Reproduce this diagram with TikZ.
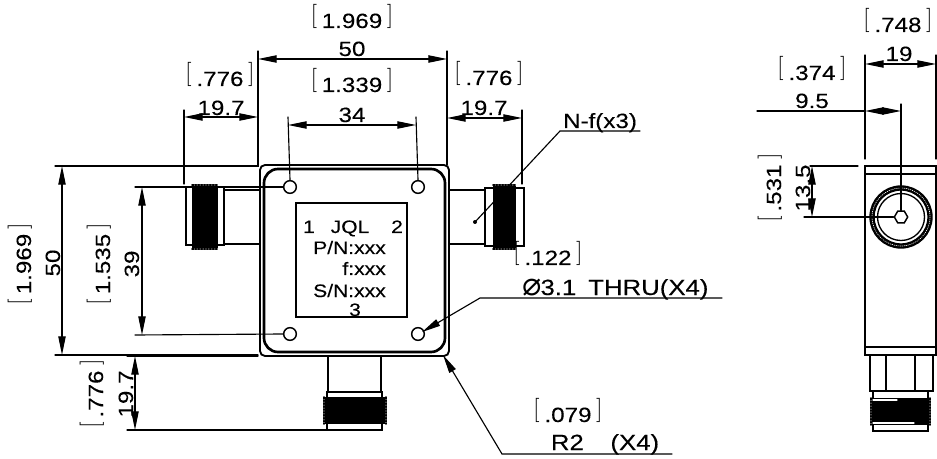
\documentclass[tikz,border=0pt]{standalone}
\usepackage{graphicx}
\usepackage{fontspec}
\setmainfont[FakeStretch=1.17,FakeBold=0.15]{Liberation Sans}
\newfontfamily\symbolfont{DejaVu Sans}
\usetikzlibrary{arrows.meta}
\usetikzlibrary{shapes.geometric}
\newcommand{\tallbracket}[1]{\raisebox{-0.75pt}{\resizebox*{!}{19pt}{\raisebox{\depth}{$\Big#1$}}}}
\newcommand{\inch}[1]{\tallbracket{[}\hspace{3.5pt}#1\hspace{3.5pt}\tallbracket{]}}

\begin{document}
\begin{tikzpicture}[x=0.75pt,y=-0.75pt,>={Stealth[length=14pt,width=5.5pt,inset=0pt]},line cap=round,
  thin line/.style={line width=0.85pt},
  part line/.style={line width=1.4pt},
  knurl edge/.style={line width=1.2pt,densely dotted},
  size text/.style={anchor=base,inner sep=0pt,font=\fontsize{15.5}{18}\selectfont},
  note text/.style={anchor=base,inner sep=0pt,font=\fontsize{16.5}{18}\selectfont},
  plate text/.style={anchor=base,inner sep=0pt,font=\fontsize{13.5}{16}\selectfont},
  hole/.style={circle,draw,line width=1.1pt,inner sep=0pt,minimum size=9.5pt}]
 \useasboundingbox (0,0) rectangle (937,459);

 % main body
 \draw[part line,rounded corners=3.75pt] (260,165) rectangle (449,356);
 \draw[line width=2pt,rounded corners=10.5pt] (264,169) rectangle (445,352);
 \draw[thin line] (296,203) rectangle (407,317);
 \foreach \n/\x/\y in {tl/290/187,tr/418/187,bl/290/334,br/418/334}
    \node[hole] (hole \n) at (\x,\y) {};

 % plate
 \node[plate text] (port one) at (309,233) {1};
 \node[plate text] (maker) at (350,233) {JQL};
 \node[plate text] (port two) at (397,233) {2};
 \node[plate text,anchor=base east] (part no) at (386,254) {P/N:xxx};
 \node[plate text,anchor=base east] (freq) at (386,275) {f:xxx};
 \node[plate text,anchor=base east] (serial) at (386,297) {S/N:xxx};
 \node[plate text] (port three) at (355,316) {3};

 % left connector
 \draw[part line] (224,190) -- (260,190) (224,244) -- (260,244);
 \draw[part line] (186,187) rectangle (224,245);
 \fill (192,186) rectangle (218,248);
 \draw[knurl edge] (192,185) -- (218,185) (192,249) -- (218,249);
 % right connector
 \draw[part line] (449,190) -- (485,190) (449,244) -- (485,244);
 \draw[part line] (485,188) rectangle (524,246);
 \fill (493,186) rectangle (516,248);
 \draw[knurl edge] (493,185) -- (516,185) (493,249) -- (516,249);
 \draw[white,thin line] (517,192) -- (517,205);
 % bottom connector
 \draw[part line] (328,356) -- (328,392) (381,356) -- (381,392);
 \draw[part line] (327,392) rectangle (382,430);
 \fill (325,397) rectangle (385,424);
 \draw[knurl edge] (324,397) -- (324,424) (386,397) -- (386,424);

 % side view
 \draw[part line] (865,166) rectangle (936,355);
 \draw[part line] (865,174) -- (936,174) (865,347) -- (936,347);
 \draw[line width=4pt] (901,217) circle [radius=29];
 \draw[white,line width=0.5pt,densely dotted] (901,217) circle [radius=29];
 \draw[line width=1pt] (901,217) circle [radius=23.5];
 \node[draw,line width=1.1pt,shape=regular polygon,regular polygon sides=6,inner sep=0pt,minimum size=10pt] (bore) at (901,217) {};
 \draw[part line] (870,355) rectangle (933,391);
 \draw[part line] (886,355) -- (886,391) (915,355) -- (915,391);
 \draw[part line] (873,391) rectangle (928,431);
 \fill (872,398) rectangle (929,425);
 \draw[knurl edge] (871,398) -- (871,425) (930,398) -- (930,425);
 \draw[white,thin line] (873,400) -- (897,400) (873,423) -- (914,423);

 % dimensions on top
 \draw[thin line] (55,166) -- (258,166) -- (258,51);
 \draw[thin line] (447,51) -- (447,165);
 \draw[thin line,<->] (258,59) -- (447,59);
 \node[size text] (width in) at (352,28) {\inch{1.969}};
 \node[size text] (width) at (352,56) {50};

 \draw[thin line] (184,110) -- (184,184);
 \draw[thin line,<->] (184,117) -- (258,117);
 \node[size text] (left in) at (220,86) {\inch{.776}};
 \node[size text] (left) at (221,115) {19.7};

 \draw[thin line] (288,117) -- (hole tl.north);
 \draw[thin line] (416,117) -- (hole tr.north);
 \draw[thin line,<->] (288,125) -- (416,125);
 \node[size text] (holes in) at (352,92) {\inch{1.339}};
 \node[size text] (holes) at (352,122) {34};

 \draw[thin line] (522,110) -- (522,184);
 \draw[thin line,<->] (447,118) -- (522,118);
 \node[size text] (right in) at (489,85) {\inch{.776}};
 \node[size text] (right) at (484,115) {19.7};

 % dimensions on the left
 \draw[thin line] (55,355) -- (258,355);
 \draw[thin line,<->] (62,166) -- (62,355);
 \node[size text,rotate=90] (height in) at (31,264) {\inch{1.969}};
 \node[size text,rotate=90] (height) at (60,263) {50};

 \draw[thin line] (135,187) -- (hole tl.west);
 \draw[thin line] (135,335) -- (hole bl.west);
 \draw[thin line,<->] (142,187) -- (142,335);
 \node[size text,rotate=90] (pitch in) at (110,264) {\inch{1.535}};
 \node[size text,rotate=90] (pitch) at (139,264) {39};

 \draw[thin line] (127,356) -- (258,356);
 \draw[thin line] (127,430) -- (327,430);
 \draw[thin line,<->] (135,356) -- (135,430);
 \node[size text,rotate=90] (lower in) at (103,394) {\inch{.776}};
 \node[size text,rotate=90] (lower) at (133,394) {19.7};

 % leaders
 \coordinate (nf elbow) at (560,131);
 \coordinate (nf dot) at (475,222);
 \coordinate (thru elbow) at (480,298);
 \coordinate (thru tip) at (422,332);
 \coordinate (radius elbow) at (502,454);
 \coordinate (radius tip) at (443,355);
 \draw[thin line] (640,131) -- (nf elbow) -- (nf dot);
 \fill (nf dot) circle [radius=2];
 \node[size text] (connector) at (600,128) {N-f(x3)};
 \node[size text] (bore in) at (548,265) {\inch{.122}};
 \draw[thin line,->] (722,298) -- (thru elbow) -- (thru tip);
 \node[note text,anchor=base west] (thru) at (521,295) {{\symbolfont\itshape\fontsize{24}{24}\selectfont ⌀}3.1\hspace{9pt}THRU(X4)};
 \draw[thin line,->] (672,454) -- (radius elbow) -- (radius tip);
 \node[size text] (corner in) at (568,422) {\inch{.079}};
 \node[note text] (corner) at (605,450) {R2\hspace{20pt}(X4)};

 % dimensions on the side view
 \draw[thin line] (865,55) -- (865,159) (936,55) -- (936,159);
 \draw[thin line,<->] (865,64) -- (936,64);
 \node[size text] (depth in) at (898,32) {\inch{.748}};
 \node[size text] (depth) at (899,61) {19};

 \draw[thin line] (901,104) -- (bore.north);
 \draw[thin line] (757,111) -- (865,111);
 \draw[thin line,<->] (865,111) -- (901,111);
 \node[size text] (mid in) at (812,80) {\inch{.374}};
 \node[size text] (mid) at (812,108) {9.5};

 \draw[thin line] (810,166) -- (858,166);
 \draw[thin line] (804,217) -- (bore.west);
 \draw[thin line,<->] (812,166) -- (812,217);
 \node[size text,rotate=90] (axis in) at (781,188) {\inch{.531}};
 \node[size text,rotate=90] (axis) at (810,188) {13.5};
\end{tikzpicture}
\end{document}
